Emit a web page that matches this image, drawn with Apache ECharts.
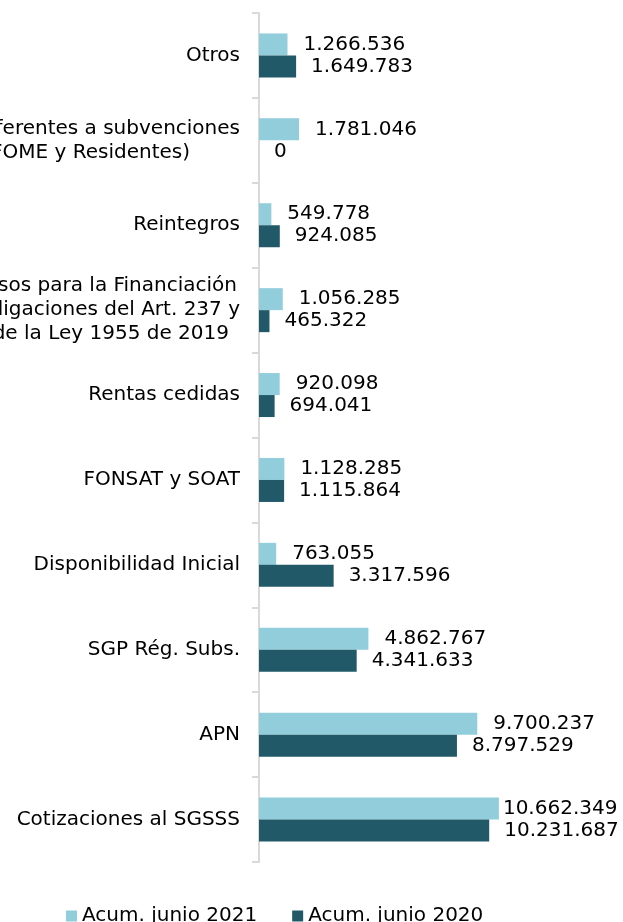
<!DOCTYPE html>
<html>
<head>
<meta charset="utf-8">
<script src="https://cdn.jsdelivr.net/npm/echarts@6/dist/echarts.min.js"></script>
<style>html,body{margin:0;padding:0;background:#fff}#c{width:623px;height:922px}</style>
</head>
<body>
<div id="c"></div>
<script>
const categories = [
  'Otros',
  'Recursos referentes a subvenciones\n(FOME y Residentes)',
  'Reintegros',
  'Recursos para la Financiación\nde las Obligaciones del Art. 237 y\n238 de la Ley 1955 de 2019',
  'Rentas cedidas',
  'FONSAT y SOAT',
  'Disponibilidad Inicial',
  'SGP Rég. Subs.',
  'APN',
  'Cotizaciones al SGSSS'
];
const seriesNames = ['Acum. junio 2021', 'Acum. junio 2020'];
const values2021 = [1266536, 1781046, 549778, 1056285, 920098, 1128285, 763055, 4862767, 9700237, 10662349];
const values2020 = [1649783, 0, 924085, 465322, 694041, 1115864, 3317596, 4341633, 8797529, 10231687];

const FONT = 'DejaVu Sans, Verdana, sans-serif';
const fmt = v => String(v).replace(/\B(?=(\d{3})+(?!\d))/g, '.');

// per-line right shifts of wrapped category labels (layout only)
const lineShift = {'(FOME y Residentes)': 50, 'Recursos para la Financiación': 3, '238 de la Ley 1955 de 2019': 11};

function withLabelFix(vals, fixIdx, dist) {
  return vals.map((v, i) => i === fixIdx ? {value: v, label: {distance: dist}} : v);
}

const chart = echarts.init(document.getElementById('c'), null, {renderer: 'canvas'});
chart.setOption({
  animation: false,
  backgroundColor: '#fff',
  grid: {left: 259, right: 94, top: 13, bottom: 60, outerBoundsMode: 'none', containLabel: false},
  legend: {
    data: seriesNames,
    left: 61, top: 901,
    itemWidth: 11, itemHeight: 11, itemGap: 35,
    icon: 'rect',
    textStyle: {fontFamily: FONT, fontSize: 20, color: '#000'}
  },
  xAxis: {
    type: 'value', min: 0, max: 12000000,
    show: false
  },
  yAxis: {
    type: 'category', inverse: true, data: categories,
    axisLine: {show: true, lineStyle: {color: '#D9D9D9', width: 2}},
    axisTick: {show: true, length: 7, lineStyle: {color: '#D9D9D9', width: 2}},
    axisLabel: {
      margin: 19, color: '#000', fontFamily: FONT, fontSize: 20,
      formatter: v => v.split('\n').map(l => `{p${lineShift[l] || 0}|${l}}`).join('\n'),
      rich: {
        p0: {fontFamily: FONT, fontSize: 20, color: '#000', lineHeight: 24, align: 'right'},
        p3: {fontFamily: FONT, fontSize: 20, color: '#000', lineHeight: 24, align: 'right', padding: [0, 3, 0, 0]},
        p11: {fontFamily: FONT, fontSize: 20, color: '#000', lineHeight: 24, align: 'right', padding: [0, 11, 0, 0]},
        p50: {fontFamily: FONT, fontSize: 20, color: '#000', lineHeight: 24, align: 'right', padding: [0, 50, 0, 0]}
      }
    },
    splitLine: {show: false}
  },
  series: [
    {
      name: seriesNames[0], type: 'bar', data: withLabelFix(values2021, 9, 4),
      barWidth: 22, barGap: '0%',
      itemStyle: {color: '#92CDDC'},
      label: {show: true, position: 'right', distance: 16, fontFamily: FONT, fontSize: 20, color: '#000', formatter: p => fmt(p.value)}
    },
    {
      name: seriesNames[1], type: 'bar', data: values2020,
      barWidth: 22, barGap: '0%',
      itemStyle: {color: '#215968'},
      label: {show: true, position: 'right', distance: 15, fontFamily: FONT, fontSize: 20, color: '#000', formatter: p => fmt(p.value)}
    }
  ]
});
</script>
</body>
</html>
